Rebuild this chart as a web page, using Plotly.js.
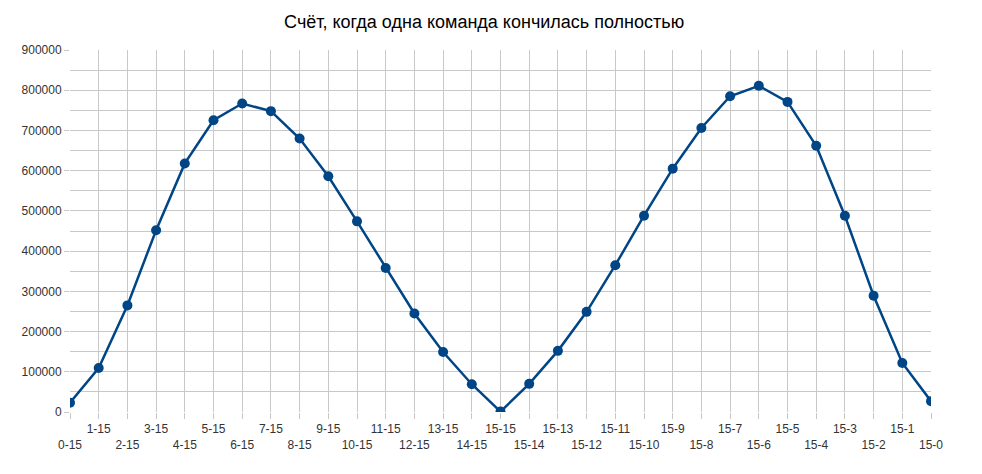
<!DOCTYPE html>
<html><head><meta charset="utf-8">
<script src="https://cdn.plot.ly/plotly-3.0.1.min.js"></script>
<style>html,body{margin:0;padding:0;background:#fff;}#chart{width:982px;height:474px;}</style>
</head><body><div id="chart"></div>
<script>
const categories = ["0-15","1-15","2-15","3-15","4-15","5-15","6-15","7-15","8-15","9-15","10-15","11-15","12-15","13-15","14-15","15-15",
  "15-14","15-13","15-12","15-11","15-10","15-9","15-8","15-7","15-6","15-5","15-4","15-3","15-2","15-1","15-0"];
const scores = [23000,109500,265000,452000,618000,725500,767000,748000,680000,586000,474000,358000,245000,149000,69000,1000,
  70000,152000,249000,365000,488000,605000,706000,785000,811000,771000,662000,488000,289000,122000,27000];
const yTicks = [0,100000,200000,300000,400000,500000,600000,700000,800000,900000];

const tickText = categories.map((c,i) => i % 2 === 1 ? c : "\u00a0<br>" + c);

const trace = {
  x: categories, y: scores, type: "scatter", mode: "lines+markers",
  line: {color: "#004586", width: 2.5},
  marker: {color: "#004586", size: 10},
  hoverinfo: "x+y"
};
const layout = {
  width: 982, height: 474,
  margin: {l: 70, r: 51, t: 50, b: 62},
  paper_bgcolor: "#fff", plot_bgcolor: "#fff",
  showlegend: false,
  font: {family: "Liberation Sans, Arial, sans-serif", color: "#333", size: 12},
  title: {text: "Счёт, когда одна команда кончилась полностью", x: 0.493, xanchor: "center", y: 0.955, yanchor: "middle",
    font: {family: "Liberation Sans, Arial, sans-serif", size: 18, color: "#000"}},
  xaxis: {
    type: "category", range: [0, 30], tickmode: "array", tickvals: categories, ticktext: tickText,
    tickangle: 0, showgrid: true, gridcolor: "#c8c8c8", gridwidth: 1,
    ticks: "outside", ticklen: 6, tickcolor: "#c8c8c8", showline: false, zeroline: false,
    tickfont: {size: 12, color: "#333"}
  },
  yaxis: {
    range: [0, 900000], tickmode: "array", tickvals: yTicks, ticktext: yTicks.map(String),
    showgrid: true, gridcolor: "#c8c8c8", gridwidth: 1, zeroline: false, showline: false,
    ticks: "outside", ticklen: 5, tickcolor: "#c8c8c8",
    tickfont: {size: 12, color: "#333"},
    minor: {dtick: 50000, tick0: 0, showgrid: true, gridcolor: "#c8c8c8", gridwidth: 1, ticks: ""}
  }
};
Plotly.newPlot("chart", [trace], layout, {displayModeBar: false, staticPlot: true});
</script></body></html>
